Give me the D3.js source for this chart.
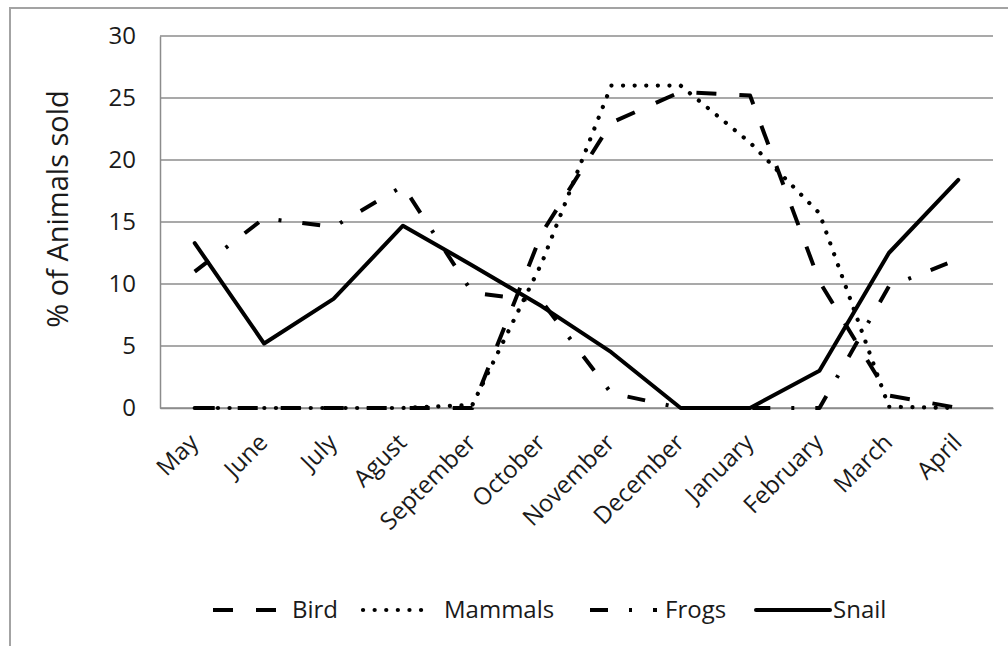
<!DOCTYPE html>
<html>
<head>
<meta charset="utf-8">
<script src="https://cdn.jsdelivr.net/npm/d3@7"></script>
<style>
  html, body { margin: 0; padding: 0; background: #fff; }
  svg { display: block; }
  text { font-family: "Open Sans", sans-serif; fill: #1a1a1a; }
</style>
</head>
<body>
<svg id="chart" width="1008" height="646"></svg>
<script>
const months = ["May","June","July","Agust","September","October","November","December","January","February","March","April"];
const bird    = [0, 0, 0, 0, 0, 14.1, 23, 25.5, 25.2, 10.2, 1.0, 0];
const mammals = [0, 0, 0, 0, 0.25, 11.7, 26, 26, 21.4, 15.7, 0.1, 0];
const frogs   = [11, 15.3, 14.6, 17.9, 9.3, 8.6, 1.2, 0, 0, 0, 9.8, 12];
const snail   = [13.3, 5.2, 8.8, 14.7, 11.5, 8.2, 4.5, 0, 0, 3, 12.5, 18.4];
const yTicks  = [0, 5, 10, 15, 20, 25, 30];
const seriesNames = ["Bird", "Mammals", "Frogs", "Snail"];

const svg = d3.select("#chart");
const W = 1008, H = 646;
const plot = {left: 160, right: 993, top: 36, bottom: 408};

// outer frame
svg.append("path")
  .attr("d", `M10,${H} L10,8 L${W},8`)
  .attr("fill", "none").attr("stroke", "#a3a3a3").attr("stroke-width", 2);

const x = d3.scaleBand().domain(months).range([plot.left, plot.right]);
const y = d3.scaleLinear().domain([0, 30]).range([plot.bottom, plot.top]);
const cx = m => x(m) + x.bandwidth() / 2;

// gridlines
svg.append("g").selectAll("line").data(yTicks).join("line")
  .attr("x1", plot.left).attr("x2", plot.right)
  .attr("y1", d => y(d)).attr("y2", d => y(d))
  .attr("stroke", "#8c8c8c").attr("stroke-width", 1.5);

// y axis
const yAxis = svg.append("g").attr("transform", `translate(${plot.left},0)`)
  .call(d3.axisLeft(y).tickValues(yTicks).tickSize(0).tickPadding(24));
yAxis.select(".domain").attr("stroke", "#8c8c8c").attr("stroke-width", 1.5);
yAxis.selectAll("text").style("font-size", "24px").attr("fill", "#1a1a1a")
  .style("font-family", "'Open Sans', sans-serif");

// x axis
const xAxis = svg.append("g").attr("transform", `translate(0,${plot.bottom})`)
  .call(d3.axisBottom(x).tickSize(0).tickFormat(""));
xAxis.select(".domain").attr("stroke", "#8c8c8c").attr("stroke-width", 1.5);

svg.append("g").selectAll("text").data(months).join("text")
  .attr("transform", d => `translate(${cx(d) + 5},${plot.bottom + 36}) rotate(-45)`)
  .attr("text-anchor", "end")
  .style("font-size", "24px")
  .text(d => d);

// y title
svg.append("text")
  .attr("transform", `translate(68,209) rotate(-90)`)
  .attr("text-anchor", "middle")
  .style("font-size", "29px")
  .text("% of Animals sold");

const styles = {
  Bird:    {dash: "20,23", cap: "butt", w: 4},
  Mammals: {dash: "0.1,11.5", cap: "round", w: 4.2},
  Frogs:   {dash: "18,21,3,21", cap: "butt", w: 4},
  Snail:   {dash: null, cap: "round", w: 4}
};
const dataMap = {Bird: bird, Mammals: mammals, Frogs: frogs, Snail: snail};

const line = d3.line().x((d, i) => cx(months[i])).y(d => y(d));

seriesNames.forEach(name => {
  const s = styles[name];
  svg.append("path")
    .datum(dataMap[name])
    .attr("d", line)
    .attr("fill", "none")
    .attr("stroke", "#000")
    .attr("stroke-width", s.w)
    .attr("stroke-linejoin", "round")
    .attr("stroke-linecap", s.cap)
    .attr("stroke-dasharray", s.dash);
});

// legend
const legendY = 610;
const legendItems = [
  {name: "Bird", x0: 213, x1: 283, tx: 292},
  {name: "Mammals", x0: 363, x1: 426, tx: 444},
  {name: "Frogs", x0: 590, x1: 657, tx: 665},
  {name: "Snail", x0: 756, x1: 830, tx: 833}
];
const lg = svg.append("g");
legendItems.forEach(it => {
  const s = styles[it.name];
  lg.append("line")
    .attr("x1", it.x0).attr("x2", it.x1)
    .attr("y1", legendY).attr("y2", legendY)
    .attr("stroke", "#000").attr("stroke-width", s.w)
    .attr("stroke-linecap", s.cap)
    .attr("stroke-dasharray", s.dash);
  lg.append("text")
    .attr("x", it.tx).attr("y", legendY)
    .attr("dy", "0.35em")
    .style("font-size", "24px")
    .text(it.name);
});
</script>
</body>
</html>
